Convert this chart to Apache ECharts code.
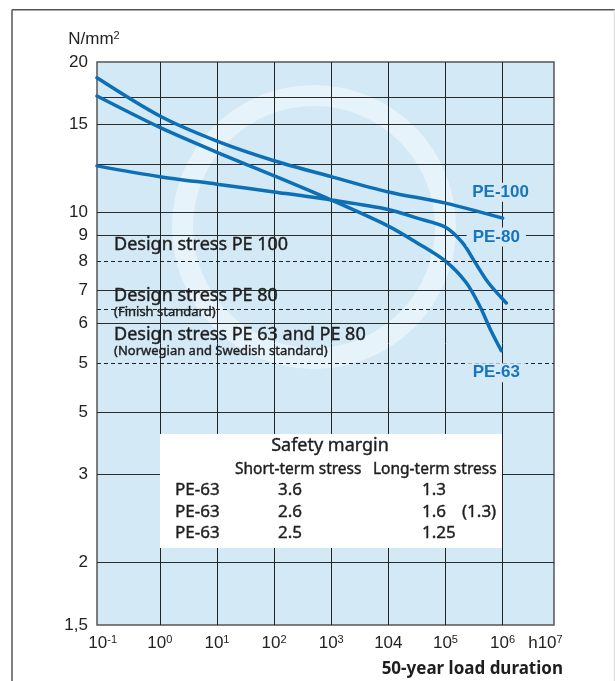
<!DOCTYPE html>
<html>
<head>
<meta charset="utf-8">
<script src="https://cdn.jsdelivr.net/npm/echarts@6/dist/echarts.min.js"></script>
<style>
  html, body { margin: 0; padding: 0; background: #ffffff; }
  #chart { width: 615px; height: 681px; }
</style>
</head>
<body>
<div id="chart"></div>
<script>
// Long-term strength curves: load duration in hours, stress in N/mm²
const pe100Hours  = [0.0794, 1, 10, 100, 1000, 1e4, 1e5, 1e6];
const pe100Stress = [18.6, 15.6, 13.9, 12.7, 11.8, 11.0, 10.45, 9.75];
const pe80Hours   = [0.0794, 1, 10, 100, 1000, 1e4, 3.2e4, 1e5, 2e5, 3.2e5, 5.6e5, 1.16e6];
const pe80Stress  = [12.4, 11.8, 11.4, 11.0, 10.6, 10.15, 9.75, 9.35, 8.7, 8.0, 7.25, 6.6];
const pe63Hours   = [0.0794, 1, 10, 100, 1000, 1e4, 3.2e4, 1e5, 2.3e5, 4e5, 6.3e5, 9.5e5];
const pe63Stress  = [17.1, 14.8, 13.2, 11.85, 10.6, 9.4, 8.7, 8.0, 7.25, 6.5, 5.8, 5.3];

// Design stress levels and their captions
const designStress = [8, 6.4, 5];
const designTitles = ['Design stress PE 100', 'Design stress PE 80', 'Design stress PE 63 and PE 80'];
const designNotes  = ['', '(Finish standard)', '(Norwegian and Swedish standard)'];

// Stress axis: grid lines and labels
const yGridValues  = [2, 3, 4, 6, 7, 9, 10, 12.5, 15, 17];
const yLabelValues = [1.5, 2, 3, 4, 5, 6, 7, 8, 9, 10, 15, 20];
const yLabelTexts  = ['1,5', '2', '3', '5', '5', '6', '7', '8', '9', '10', '15', '20'];

// Duration axis: grid lines and labels (base + exponent)
const xGridValues  = [1, 10, 100, 1000, 1e4, 1e5, 1e6];
const xLabelValues = [0.1, 1, 10, 100, 1000, 1e4, 1e5, 1e6, 5.62e6];
const xLabelBase   = ['10', '10', '10', '10', '10', '104', '10', '10', 'h10'];
const xLabelExp    = ['-1', '0', '1', '2', '3', '', '5', '6', '7'];
const xAxisTitle   = '50-year load duration';

// Safety margin table
const tableGrades = ['PE-63', 'PE-63', 'PE-63'];
const shortTermMargin = ['3.6', '2.6', '2.5'];
const longTermMargin  = ['1.3', '1.6', '1.25'];
const longTermNote    = ['', '(1.3)', ''];

const curveColor = '#0d6fb6';
const labelBlue = '#1874bc';
const plotBg = '#d3e9f6';
const textDark = '#1e1e1e';
const sansTick = 'Liberation Sans, Arial, sans-serif';
const sansText = 'Noto Sans, sans-serif';

const pairs = (xs, ys) => xs.map((x, i) => [x, ys[i]]);
const findIndexLog = (vals, v) => vals.findIndex(t => Math.abs(Math.log10(t) - Math.log10(v)) < 0.01);

const grid = { left: 97, right: 61, top: 62, bottom: 56 };
const plotW = 615 - grid.left - grid.right;
const plotH = 681 - grid.top - grid.bottom;

function curveSeries(name, xs, ys, offset) {
  const last = [xs[xs.length - 1], ys[ys.length - 1]];
  return {
    name: name,
    type: 'line',
    data: pairs(xs, ys),
    smooth: 0.3,
    symbol: 'none',
    lineStyle: { color: curveColor, width: 3.5, cap: 'round' },
    z: 3,
    markPoint: {
      silent: true,
      symbol: 'circle',
      symbolSize: 1,
      itemStyle: { color: 'transparent' },
      label: {
        show: true,
        position: 'inside',
        formatter: name,
        offset: offset,
        color: labelBlue,
        fontFamily: sansTick,
        fontWeight: 'bold',
        fontSize: 17,
        backgroundColor: plotBg,
        padding: [1, 6]
      },
      data: [{ coord: last }]
    }
  };
}

// Slightly heavier caption text
const heavy = { textBorderColor: textDark, textBorderWidth: 0.4 };

const designLines = {
  silent: true,
  symbol: ['none', 'none'],
  lineStyle: { type: [4, 3], color: '#222', width: 1 },
  label: {
    show: true,
    position: 'insideStartTop',
    rich: {
      t: Object.assign({ fontFamily: sansText, fontSize: 18, color: textDark, lineHeight: 19 }, heavy),
      n: Object.assign({ fontFamily: sansText, fontSize: 13, color: textDark, lineHeight: 14 }, heavy)
    }
  },
  data: designStress.map((v, i) => ({
    yAxis: v,
    label: {
      formatter: '{t|' + designTitles[i] + '}' + (designNotes[i] ? '\n{n|' + designNotes[i] + '}' : ''),
      offset: [12, i === 1 ? 15 : (i === 0 ? -2 : 0)]
    }
  }))
};

const pe100 = curveSeries('PE-100', pe100Hours, pe100Stress, [-2, -26]);
pe100.markLine = designLines;
const pe80 = curveSeries('PE-80', pe80Hours, pe80Stress, [-10, -66]);
const pe63 = curveSeries('PE-63', pe63Hours, pe63Stress, [-5, 22]);

// Safety margin table: white panel with text, drawn above the grid lines
const tableX = 160, tableY = 434, tableZ = 10;
const cellStyle = (text, size, align) => ({
  text: text, fontFamily: sansText, fontSize: size, fill: textDark,
  stroke: textDark, lineWidth: 0.4, align: align || 'left', verticalAlign: 'middle'
});
const cell = (x, y, style) => ({ type: 'text', z: tableZ + 1, silent: true, x: tableX + x, y: tableY + y, style: style });
const tableElements = [
  { type: 'rect', z: tableZ, silent: true, shape: { x: tableX, y: tableY, width: 342, height: 114 }, style: { fill: '#ffffff' } },
  cell(170, 12, cellStyle('Safety margin', 18, 'center')),
  cell(75, 36, cellStyle('Short-term stress', 15.5)),
  cell(213, 36, cellStyle('Long-term stress', 15.5))
];
tableGrades.forEach((g, i) => {
  const y = 56 + i * 21.7;
  tableElements.push(cell(15, y, cellStyle(g, 17)));
  tableElements.push(cell(118, y, cellStyle(shortTermMargin[i], 17)));
  tableElements.push(cell(262, y, cellStyle(longTermMargin[i], 17)));
  if (longTermNote[i]) {
    tableElements.push(cell(302, y, cellStyle(longTermNote[i], 17)));
  }
});

const chart = echarts.init(document.getElementById('chart'), null, { renderer: 'canvas' });
chart.setOption({
  animation: false,
  backgroundColor: '#ffffff',
  textStyle: { fontFamily: sansTick },
  title: {
    text: xAxisTitle,
    right: 52,
    top: 658,
    padding: 0,
    textStyle: { fontFamily: sansText, fontWeight: 'bold', fontSize: 17, color: textDark, lineHeight: 22 }
  },
  grid: {
    left: grid.left, right: grid.right, top: grid.top, bottom: grid.bottom,
    outerBoundsMode: 'none',
    containLabel: false,
    show: true, borderColor: '#555', borderWidth: 1.5, backgroundColor: 'transparent'
  },
  xAxis: {
    type: 'log',
    logBase: 10,
    min: Math.pow(10, -1.1),
    max: Math.pow(10, 6.9),
    axisLine: { show: false },
    axisTick: { show: false, customValues: xGridValues },
    splitLine: { show: true, lineStyle: { color: '#222', width: 1 } },
    axisLabel: {
      customValues: xLabelValues,
      margin: 9,
      formatter: function (v) {
        const i = findIndexLog(xLabelValues, v);
        if (i < 0) return '';
        return '{b|' + xLabelBase[i] + '}' + (xLabelExp[i] ? '{s|' + xLabelExp[i] + '}' : '');
      },
      rich: {
        b: { fontFamily: sansTick, fontSize: 17, color: '#222', lineHeight: 18, verticalAlign: 'bottom' },
        s: { fontFamily: sansTick, fontSize: 11, color: '#222', lineHeight: 18, verticalAlign: 'top', padding: [0, 0, 6, 0] }
      }
    }
  },
  yAxis: {
    type: 'log',
    logBase: 10,
    min: 1.5,
    max: 20,
    name: '{a|N/mm}{s|2}',
    nameLocation: 'end',
    nameGap: 14,
    nameTextStyle: {
      align: 'center',
      padding: [0, 6, 0, 0],
      rich: {
        a: { fontFamily: sansTick, fontSize: 17, color: '#222', verticalAlign: 'bottom', lineHeight: 18 },
        s: { fontFamily: sansTick, fontSize: 11, color: '#222', verticalAlign: 'top', lineHeight: 18 }
      }
    },
    axisLine: { show: false },
    axisTick: { show: false, customValues: yGridValues },
    splitLine: { show: true, lineStyle: { color: '#2b2b2b', width: 1 } },
    axisLabel: {
      customValues: yLabelValues,
      margin: 9,
      fontFamily: sansTick,
      fontSize: 17,
      color: '#222',
      formatter: function (v) {
        const i = findIndexLog(yLabelValues, v);
        return i < 0 ? '' : yLabelTexts[i];
      }
    }
  },
  graphic: [
    { type: 'rect', z: -10, silent: true, shape: { x: grid.left, y: grid.top, width: plotW, height: plotH }, style: { fill: plotBg } },
    { type: 'ring', z: -9, silent: true, shape: { cx: 314, cy: 227, r: 142, r0: 121 }, style: { fill: 'rgba(255,255,255,0.45)' } },
    { type: 'line', z: 1, silent: true, shape: { x1: 12, y1: 9.7, x2: 12, y2: 681 }, style: { stroke: '#555', lineWidth: 1.5 } },
    { type: 'line', z: 1, silent: true, shape: { x1: 12, y1: 9.7, x2: 615, y2: 9.7 }, style: { stroke: '#555', lineWidth: 1.5 } },
    { type: 'line', z: 1, silent: true, shape: { x1: 614.3, y1: 9.7, x2: 614.3, y2: 681 }, style: { stroke: '#d8d8d8', lineWidth: 1 } }
  ].concat(tableElements),
  series: [pe100, pe80, pe63]
});
</script>
</body>
</html>
